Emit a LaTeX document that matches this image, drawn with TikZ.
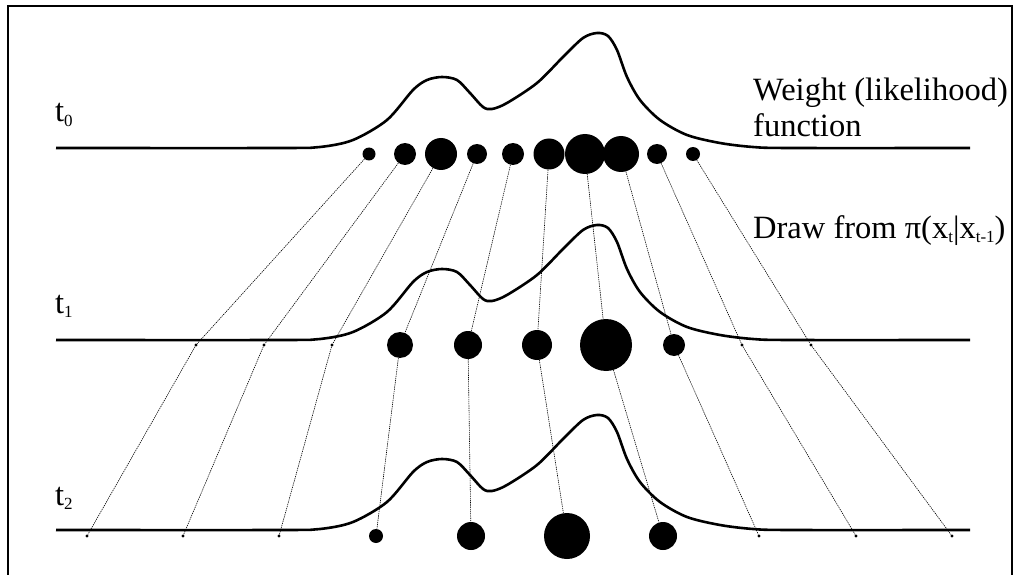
\documentclass[tikz,border=0pt]{standalone}
\usepackage{fontspec}
\setmainfont{Liberation Serif}
\newcommand{\lowidx}[1]{\raisebox{-0.3ex}{\fontsize{17}{17}\selectfont #1}}

\begin{document}
\begin{tikzpicture}[x=1pt,y=-1pt,
    particle/.style={circle,fill=black,inner sep=0pt},
    link/.style={line width=0.6pt,dash pattern=on 1.3pt off 0.9pt},
    weight/.style={line width=2.6pt,line join=round},
    lbl/.style={font=\fontsize{32.5}{36}\selectfont,inner sep=0pt}]
  \useasboundingbox (0,0) rectangle (1018,575);
  \draw[line width=1.3pt] (8,575) |- (1012,6) -- (1012,575);
    \foreach \b/\yl [count=\i from 0] in {148/122,340/313,530/505}
    {
      \draw[weight] plot[smooth,tension=0.5] coordinates {(56,\b) (280,\b) (320,\b-1) (353,\b-8)
        (387,\b-28) (413,\b-58) (427,\b-68) (442,\b-71) (457,\b-68) (470,\b-55) (483,\b-41)
        (492,\b-39) (507,\b-45) (537,\b-65) (563,\b-91) (583,\b-110) (597,\b-115) (608,\b-112)
        (617,\b-98) (627,\b-71) (640,\b-48) (660,\b-28) (687,\b-13) (720,\b-5) (753,\b-1)
        (790,\b) (970,\b)};
      \node[lbl,anchor=base west] (t\i) at (55,\yl) {t\lowidx{\i}};
    }
    \foreach \x/\r [count=\i] in {369/6.5,405/11,441/16,477/10,513/11,549/15.5,585/20,621/18,657/10,693/7}
      \node[particle,minimum size={2*\r pt}] (a\i) at (\x,154) {};
    \foreach \x/\r [count=\i] in {196/1.6,264/1.6,332/1.6,400/13,468/14,537/15,606/26,674/11,742/1.6,811/1.6}
      \node[particle,minimum size={2*\r pt}] (b\i) at (\x,345) {};
    \foreach \x/\r [count=\i] in {87/1.6,183/1.6,279/1.6,376/7,471/14,567/23,663/14,759/1.6,856/1.6,952/1.6}
      \node[particle,minimum size={2*\r pt}] (c\i) at (\x,536) {};
    \foreach \i in {1,...,10}
    {
      \draw[link] (a\i) -- (b\i);
      \draw[link] (b\i) -- (c\i);
    }
    \node[lbl,anchor=north west,align=left] (weightfn) at (753,78) {Weight (likelihood)\\function};
    \node[lbl,anchor=base west] (drawfrom) at (753,238) {Draw from π(x\lowidx{t}|x\lowidx{t-1})};
\end{tikzpicture}
\end{document}
